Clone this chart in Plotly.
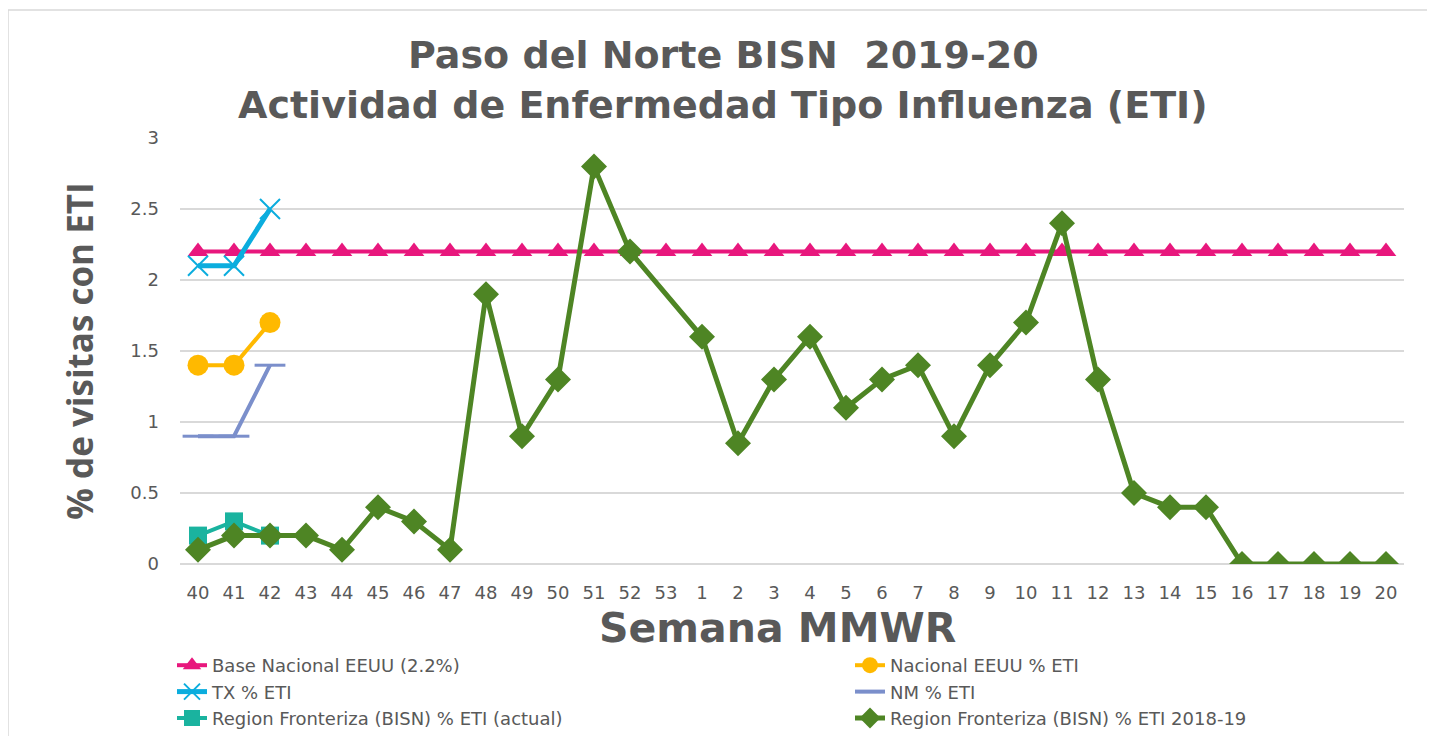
import plotly.graph_objects as go

weeks = [str(w) for w in list(range(40, 54)) + list(range(1, 21))]

base_nacional = [2.2] * len(weeks)
nacional = [1.4, 1.4, 1.7]
tx = [2.1, 2.1, 2.5]
nm = [0.9, 0.9, 1.4]
bisn_actual = [0.2, 0.3, 0.2]
bisn_2018 = [0.1, 0.2, 0.2, 0.2, 0.1, 0.4, 0.3, 0.1, 1.9, 0.9, 1.3, 2.8, 2.2, None,
             1.6, 0.85, 1.3, 1.6, 1.1, 1.3, 1.4, 0.9, 1.4, 1.7, 2.4, 1.3, 0.5, 0.4, 0.4,
             0, 0, 0, 0, 0]

names = ["Base Nacional EEUU (2.2%)", "Nacional EEUU % ETI", "TX % ETI", "NM % ETI",
         "Region Fronteriza (BISN) % ETI (actual)", "Region Fronteriza (BISN) % ETI 2018-19"]
title_lines = ["Paso del Norte BISN  2019-20", "Actividad de Enfermedad Tipo Influenza (ETI)"]
x_title = "Semana MMWR"
y_title = "% de visitas con ETI"

FONT = "DejaVu Sans"
GRAY = "#595959"
OFF = 8  # page body margin offset
W, H = 1435 - OFF, 736 - OFF
# plot area in screen pixels: x 180..1404, y 138..564
L, T = 180 - OFF, 138 - OFF
R, B = W - (1404 - OFF), H - (564 - OFF)
PW, PH = W - L - R, H - T - B


def px_x(p):
    return (p - OFF - L) / PW


def px_y(p):
    return (H - B - (p - OFF)) / PH


fig = go.Figure()
fig.add_trace(go.Scatter(x=weeks, y=base_nacional, name=names[0], mode="lines+markers",
                         legend="legend",
                         line=dict(color="#E8177D", width=4),
                         marker=dict(symbol="triangle-up", size=18, color="#E8177D")))
fig.add_trace(go.Scatter(x=weeks[:3], y=nacional, name=names[1], mode="lines+markers",
                         legend="legend2",
                         line=dict(color="#FFB900", width=4),
                         marker=dict(symbol="circle", size=21, color="#FFB900")))
fig.add_trace(go.Scatter(x=weeks[:3], y=tx, name=names[2], mode="lines+markers",
                         legend="legend",
                         line=dict(color="#0BADDE", width=5),
                         marker=dict(symbol="x-thin", size=20, color="#0BADDE",
                                     line=dict(color="#0BADDE", width=2))))
fig.add_trace(go.Scatter(x=weeks[:3], y=nm, name=names[3], mode="lines+markers",
                         legend="legend2",
                         line=dict(color="#7B8FCB", width=4),
                         marker=dict(symbol="line-ew", size=22, color="#7B8FCB",
                                     line=dict(color="#7B8FCB", width=3))))
fig.add_trace(go.Scatter(x=weeks[:3], y=bisn_actual, name=names[4], mode="lines+markers",
                         legend="legend",
                         line=dict(color="#1AB39F", width=4),
                         marker=dict(symbol="square", size=18, color="#1AB39F")))
fig.add_trace(go.Scatter(x=weeks, y=bisn_2018, name=names[5], mode="lines+markers",
                         legend="legend2", connectgaps=True,
                         line=dict(color="#4E8524", width=5),
                         marker=dict(symbol="diamond", size=20, color="#4E8524")))

legend_common = dict(orientation="v", yanchor="top", xanchor="left",
                     font=dict(family=FONT, size=18, color=GRAY),
                     bgcolor="rgba(0,0,0,0)", tracegroupgap=0, traceorder="normal",
                     itemwidth=30)

fig.update_layout(
    width=W, height=H,
    paper_bgcolor="white", plot_bgcolor="white",
    margin=dict(l=L, r=R, t=T, b=B, autoexpand=False),
    font=dict(family=FONT, color=GRAY, size=17),
    showlegend=True,
    xaxis=dict(type="category", categoryorder="array", categoryarray=weeks,
               range=[-0.5, len(weeks) - 0.5],
               showgrid=False, showline=False, ticks="", automargin=False,
               ticklabelstandoff=16,
               tickfont=dict(family=FONT, size=18, color=GRAY)),
    yaxis=dict(range=[0, 3], dtick=0.5, automargin=False,
               showgrid=True, gridcolor="#D9D9D9", gridwidth=1.5,
               zeroline=True, zerolinecolor="#D9D9D9", zerolinewidth=1.5,
               ticks="", ticklabelstandoff=20,
               tickfont=dict(family=FONT, size=18, color=GRAY),
               title=dict(text="<b>" + y_title + "</b>",
                          font=dict(family="Open Sans", size=35, color=GRAY), standoff=26)),
    legend=dict(x=px_x(172), y=px_y(647), **legend_common),
    legend2=dict(x=px_x(850), y=px_y(647), **legend_common),
    annotations=[
        dict(text="<b>" + title_lines[0] + "</b>", xref="paper", yref="paper",
             x=px_x(723), y=px_y(55), xanchor="center", yanchor="middle", showarrow=False,
             font=dict(family=FONT, size=38, color=GRAY)),
        dict(text="<b>" + title_lines[1] + "</b>", xref="paper", yref="paper",
             x=px_x(723), y=px_y(105), xanchor="center", yanchor="middle", showarrow=False,
             font=dict(family=FONT, size=38, color=GRAY)),
        dict(text="<b>" + x_title + "</b>", xref="paper", yref="paper",
             x=px_x(777), y=px_y(628), xanchor="center", yanchor="middle", showarrow=False,
             font=dict(family=FONT, size=41, color=GRAY)),
    ],
    shapes=[dict(type="rect", xref="paper", yref="paper",
                 x0=px_x(8), x1=px_x(1428), y0=px_y(745), y1=px_y(10),
                 line=dict(color="#D9D9D9", width=1.5), layer="below")],
)

fig.write_html("out.html")
